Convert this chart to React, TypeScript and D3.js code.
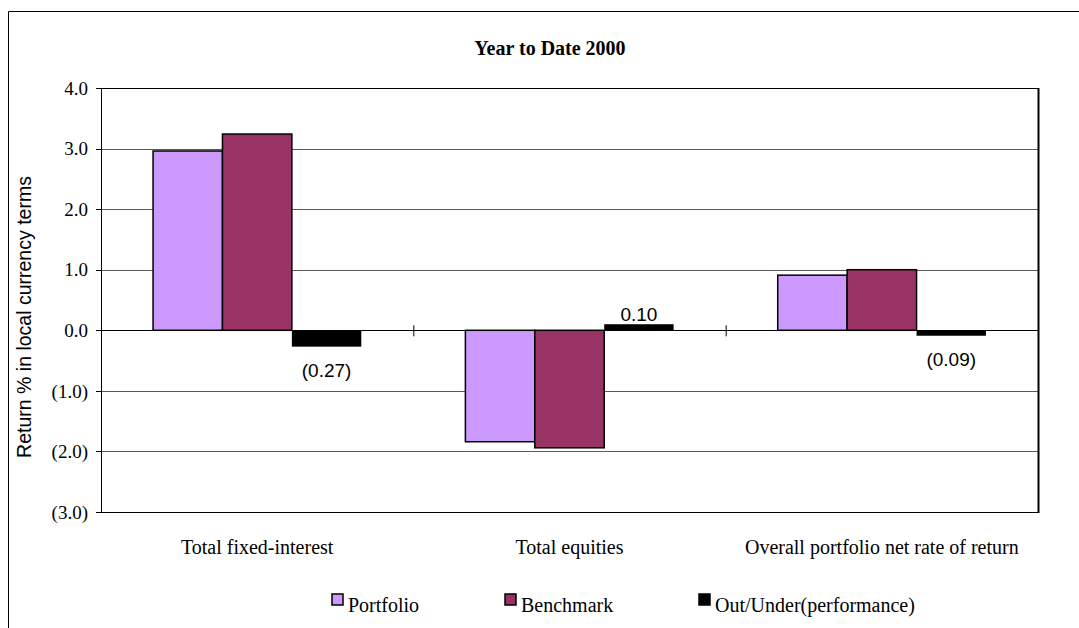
import React from "react";
import * as d3 from "d3";

// Categories, series and values
const categories = ["Total fixed-interest", "Total equities", "Overall portfolio net rate of return"];
const seriesNames = ["Portfolio", "Benchmark", "Out/Under(performance)"];
const portfolio = [2.96, -1.84, 0.91];
const benchmark = [3.24, -1.94, 1.0];
const outUnder = [-0.27, 0.1, -0.09];
const yTicks = [4, 3, 2, 1, 0, -1, -2, -3];
const seriesColors = ["#CC99FF", "#993366", "#000000"];

const W = 1079;
const H = 628;
const plot = { left: 101, right: 1038, top: 88, bottom: 512 };

const serif = "Liberation Serif, Times New Roman, serif";
const sans = "Liberation Sans, Arial, sans-serif";

const fmtTick = (v: number) => (v < 0 ? `(${Math.abs(v).toFixed(1)})` : v.toFixed(1));
const fmtLabel = (v: number) => (v < 0 ? `(${Math.abs(v).toFixed(2)})` : v.toFixed(2));

export default function App() {
  const y = d3.scaleLinear().domain([-3, 4]).range([plot.bottom, plot.top]);
  const x0 = d3.scaleBand<string>().domain(categories).range([plot.left, plot.right]).padding(0);
  const bw = x0.bandwidth();
  const groupW = (bw * 3) / 4.5; // gap width 150%
  const x1 = d3
    .scaleBand<string>()
    .domain(seriesNames)
    .range([(bw - groupW) / 2, (bw + groupW) / 2])
    .padding(0);

  const values = [portfolio, benchmark, outUnder];
  const y0 = y(0);

  return (
    <div style={{ position: "absolute", left: 0, top: 0 }}>
      <svg width={W} height={H} style={{ display: "block", background: "#fff" }}>
        {/* chart area border (continues past the visible frame) */}
        <line x1={8.5} x2={W} y1={11.5} y2={11.5} stroke="#000" strokeWidth={1} />
        <line x1={8.5} x2={8.5} y1={11.5} y2={H} stroke="#000" strokeWidth={1} />

        <text x={550} y={55} textAnchor="middle" fontFamily={serif} fontWeight="bold" fontSize={20}>
          Year to Date 2000
        </text>

        {/* gridlines */}
        {yTicks
          .filter((t) => t !== 0 && t !== 4 && t !== -3)
          .map((t) => (
            <line key={t} x1={plot.left} x2={plot.right} y1={Math.round(y(t)) + 0.5} y2={Math.round(y(t)) + 0.5} stroke="#5a5a5a" strokeWidth={1} />
          ))}

        {/* plot frame */}
        <rect
          x={plot.left + 0.5}
          y={Math.round(plot.top) + 0.5}
          width={plot.right - plot.left}
          height={plot.bottom - plot.top}
          fill="none"
          stroke="#000"
          strokeWidth={1}
        />
        <line x1={plot.right + 0.5} x2={plot.right + 0.5} y1={plot.top} y2={plot.bottom + 1} stroke="#000" strokeWidth={2} />

        {/* y ticks and labels */}
        {yTicks.map((t) => (
          <g key={t}>
            <line x1={plot.left - 5} x2={plot.left} y1={Math.round(y(t)) + 0.5} y2={Math.round(y(t)) + 0.5} stroke="#000" />
            <text x={88} y={y(t)} dy="0.35em" textAnchor="end" fontFamily={serif} fontSize={19}>
              {fmtTick(t)}
            </text>
          </g>
        ))}

        <text
          transform={`translate(24,317) rotate(-90)`}
          textAnchor="middle"
          dy="0.35em"
          fontFamily={sans}
          fontSize={19.5}
        >
          Return % in local currency terms
        </text>

        {/* bars */}
        {categories.map((c, ci) => (
          <g key={c} transform={`translate(${x0(c)},0)`}>
            {seriesNames.map((s, si) => {
              const v = values[si][ci];
              const top = Math.min(y(v), y0);
              const h = Math.abs(y(v) - y0);
              const isOut = si === 2;
              return (
                <rect
                  key={s}
                  x={x1(s)!}
                  y={top}
                  width={x1.bandwidth()}
                  height={h}
                  fill={seriesColors[si]}
                  stroke={isOut ? "none" : "#000"}
                  strokeWidth={1.5}
                />
              );
            })}
          </g>
        ))}

        {/* category axis at zero with boundary ticks */}
        <line x1={plot.left} x2={plot.right} y1={Math.round(y0) + 0.5} y2={Math.round(y0) + 0.5} stroke="#000" />
        {categories.slice(1).map((c) => (
          <line key={c} x1={x0(c)! + 0.5} x2={x0(c)! + 0.5} y1={y0 - 5} y2={y0 + 6} stroke="#000" />
        ))}

        {/* data labels for Out/Under */}
        {categories.map((c, ci) => {
          const v = outUnder[ci];
          const cx = x0(c)! + x1(seriesNames[2])! + x1.bandwidth() / 2;
          const ly = v < 0 ? y(v) + 24 : y(v) - 10;
          return (
            <text key={c} x={cx} y={ly} dy="0.35em" textAnchor="middle" fontFamily={sans} fontSize={19}>
              {fmtLabel(v)}
            </text>
          );
        })}

        {/* category labels */}
        {categories.map((c) => (
          <text key={c} x={x0(c)! + bw / 2} y={554} textAnchor="middle" fontFamily={serif} fontSize={20}>
            {c}
          </text>
        ))}

        {/* legend */}
        {seriesNames.map((s, i) => {
          const lx = [332, 505, 699][i];
          return (
            <g key={s}>
              <rect
                x={lx}
                y={594}
                width={11}
                height={11}
                fill={seriesColors[i]}
                stroke="#000"
                strokeWidth={1.5}
              />
              <text x={lx + 16} y={612} fontFamily={serif} fontSize={20}>
                {s}
              </text>
            </g>
          );
        })}
      </svg>
    </div>
  );
}
